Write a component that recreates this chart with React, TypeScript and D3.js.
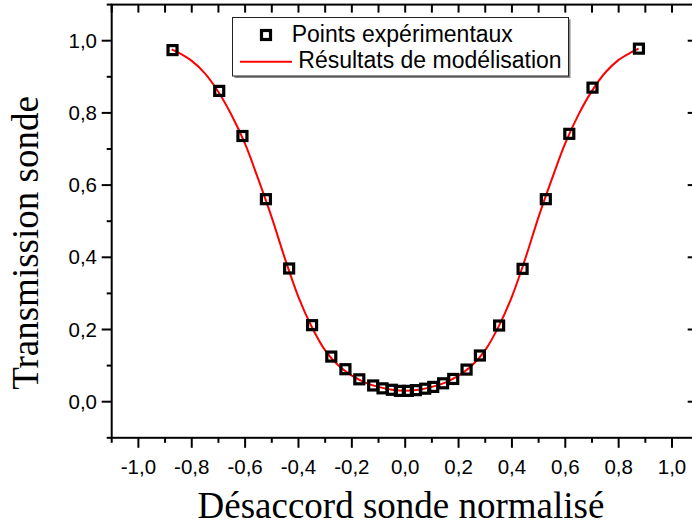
import { useEffect, useRef } from "react";
import * as d3 from "d3";

// experimental points (normalised detuning, probe transmission)
const expDetuning = [
  -0.872, -0.697, -0.61, -0.522, -0.435, -0.349, -0.277, -0.224, -0.172, -0.12,
  -0.085, -0.05, -0.02, 0.01, 0.04, 0.075, 0.105, 0.142, 0.18, 0.23, 0.28,
  0.352, 0.44, 0.527, 0.615, 0.702, 0.876,
];
const expTransmission = [
  0.974, 0.861, 0.736, 0.561, 0.369, 0.212, 0.125, 0.09, 0.062, 0.045, 0.037,
  0.033, 0.03, 0.03, 0.032, 0.036, 0.041, 0.051, 0.063, 0.089, 0.128, 0.211,
  0.368, 0.561, 0.742, 0.87, 0.978,
];

// model curve
const fitDetuning = [
  -0.875, -0.85, -0.8, -0.75, -0.7, -0.65, -0.6, -0.55, -0.5, -0.45, -0.4,
  -0.35, -0.3, -0.25, -0.2, -0.15, -0.1, -0.05, 0, 0.05, 0.1, 0.15, 0.2, 0.25,
  0.3, 0.35, 0.4, 0.45, 0.5, 0.55, 0.6, 0.65, 0.7, 0.75, 0.8, 0.85, 0.875,
];
const fitTransmission = [
  0.976, 0.967, 0.944, 0.909, 0.858, 0.793, 0.714, 0.615, 0.51, 0.395, 0.29,
  0.207, 0.142, 0.1, 0.072, 0.053, 0.041, 0.033, 0.03, 0.033, 0.041, 0.053,
  0.072, 0.1, 0.143, 0.208, 0.291, 0.396, 0.512, 0.617, 0.716, 0.796, 0.861,
  0.912, 0.947, 0.969, 0.978,
];

const xMajorTicks = [-1.0, -0.8, -0.6, -0.4, -0.2, 0.0, 0.2, 0.4, 0.6, 0.8, 1.0];
const yMajorTicks = [0.0, 0.2, 0.4, 0.6, 0.8, 1.0];
const xMinorTicks = [-1.1, -0.9, -0.7, -0.5, -0.3, -0.1, 0.1, 0.3, 0.5, 0.7, 0.9, 1.1];
const yMinorTicks = [-0.1, 0.1, 0.3, 0.5, 0.7, 0.9, 1.1];

const legendLabels = ["Points expérimentaux", "Résultats de modélisation"];
const xTitle = "Désaccord sonde normalisé";
const yTitle = "Transmission sonde";

const sans = "'Liberation Sans', Arial, sans-serif";
const serif = "'Liberation Serif', 'Times New Roman', serif";

const fmt = (v: number) => v.toFixed(1).replace(".", ",");

export default function App() {
  const svgRef = useRef<SVGSVGElement | null>(null);

  useEffect(() => {
    const width = 692;
    const height = 529;

    const svg = d3
      .select(svgRef.current)
      .attr("width", width)
      .attr("height", height);
    svg.selectAll("*").remove();

    const x = d3.scaleLinear().domain([-1.1, 1.1]).range([111.7, 698.7]);
    const y = d3.scaleLinear().domain([-0.1, 1.1]).range([437.8, 4.6]);

    const [x0, x1] = x.range();
    const [y0, y1] = y.range();

    // ticks: outside on bottom/left, inside on top/right
    const tick = (
      vals: number[],
      side: "bottom" | "left" | "top" | "right",
      len: number
    ) => {
      const g = svg.append("g").attr("stroke", "#000").attr("stroke-width", 2);
      vals.forEach((v) => {
        if (side === "bottom")
          g.append("line").attr("x1", x(v)).attr("x2", x(v)).attr("y1", y0).attr("y2", y0 + len);
        if (side === "top")
          g.append("line").attr("x1", x(v)).attr("x2", x(v)).attr("y1", y1).attr("y2", y1 + len);
        if (side === "left")
          g.append("line").attr("y1", y(v)).attr("y2", y(v)).attr("x1", x0).attr("x2", x0 - len);
        if (side === "right")
          g.append("line").attr("y1", y(v)).attr("y2", y(v)).attr("x1", x1).attr("x2", x1 - len);
      });
    };

    tick(xMajorTicks, "bottom", 10);
    tick(xMinorTicks, "bottom", 5);
    tick(yMajorTicks, "left", 10);
    tick(yMinorTicks, "left", 5);
    tick([...xMajorTicks, ...xMinorTicks], "top", 8);
    tick(yMajorTicks, "right", 11);
    tick(yMinorTicks, "right", 5);

    // frame
    svg
      .append("rect")
      .attr("x", x0)
      .attr("y", y1)
      .attr("width", x1 - x0)
      .attr("height", y0 - y1)
      .attr("fill", "none")
      .attr("stroke", "#000")
      .attr("stroke-width", 2);

    // tick labels
    svg
      .append("g")
      .selectAll("text")
      .data(xMajorTicks)
      .join("text")
      .attr("x", (d) => x(d))
      .attr("y", 474)
      .attr("text-anchor", "middle")
      .attr("font-family", sans)
      .attr("font-size", 20.5)
      .text(fmt);

    svg
      .append("g")
      .selectAll("text")
      .data(yMajorTicks)
      .join("text")
      .attr("x", 97)
      .attr("y", (d) => y(d) + 7)
      .attr("text-anchor", "end")
      .attr("font-family", sans)
      .attr("font-size", 20.5)
      .text(fmt);

    // axis titles
    svg
      .append("text")
      .attr("x", 401)
      .attr("y", 518)
      .attr("text-anchor", "middle")
      .attr("font-family", serif)
      .attr("font-size", 37)
      .text(xTitle);

    svg
      .append("text")
      .attr("transform", "translate(38,243) rotate(-90)")
      .attr("text-anchor", "middle")
      .attr("font-family", serif)
      .attr("font-size", 37)
      .text(yTitle);

    // model curve
    const fit = fitDetuning.map((d, i) => [d, fitTransmission[i]] as [number, number]);
    const line = d3
      .line<[number, number]>()
      .x((d) => x(d[0]))
      .y((d) => y(d[1]))
      .curve(d3.curveCatmullRom);

    svg
      .append("path")
      .datum(fit)
      .attr("d", line)
      .attr("fill", "none")
      .attr("stroke", "#ff0000")
      .attr("stroke-width", 2);

    // experimental squares
    const pts = expDetuning.map((d, i) => [d, expTransmission[i]] as [number, number]);
    svg
      .append("g")
      .selectAll("rect")
      .data(pts)
      .join("rect")
      .attr("x", (d) => x(d[0]) - 4.5)
      .attr("y", (d) => y(d[1]) - 4.5)
      .attr("width", 9)
      .attr("height", 9)
      .attr("fill", "none")
      .attr("stroke", "#000")
      .attr("stroke-width", 3.2);

    // legend
    const lg = svg.append("g");
    lg.append("rect")
      .attr("x", 234.5)
      .attr("y", 19.5)
      .attr("width", 336)
      .attr("height", 58.5)
      .attr("fill", "#888");
    lg.append("rect")
      .attr("x", 232.5)
      .attr("y", 17.5)
      .attr("width", 336)
      .attr("height", 58.5)
      .attr("fill", "#fff")
      .attr("stroke", "#222")
      .attr("stroke-width", 1);
    lg.append("rect")
      .attr("x", 261.5)
      .attr("y", 30.5)
      .attr("width", 9)
      .attr("height", 9)
      .attr("fill", "none")
      .attr("stroke", "#000")
      .attr("stroke-width", 3.2);
    lg.append("line")
      .attr("x1", 240)
      .attr("x2", 292)
      .attr("y1", 61.7)
      .attr("y2", 61.7)
      .attr("stroke", "#ff0000")
      .attr("stroke-width", 2);
    lg.append("text")
      .attr("x", 291.7)
      .attr("y", 41.7)
      .attr("font-family", sans)
      .attr("font-size", 23)
      .text(legendLabels[0]);
    lg.append("text")
      .attr("x", 298.3)
      .attr("y", 68.3)
      .attr("font-family", sans)
      .attr("font-size", 23)
      .text(legendLabels[1]);
  }, []);

  return (
    <div style={{ position: "absolute", left: 0, top: 0, background: "#fff" }}>
      <svg ref={svgRef} style={{ display: "block" }}></svg>
    </div>
  );
}
